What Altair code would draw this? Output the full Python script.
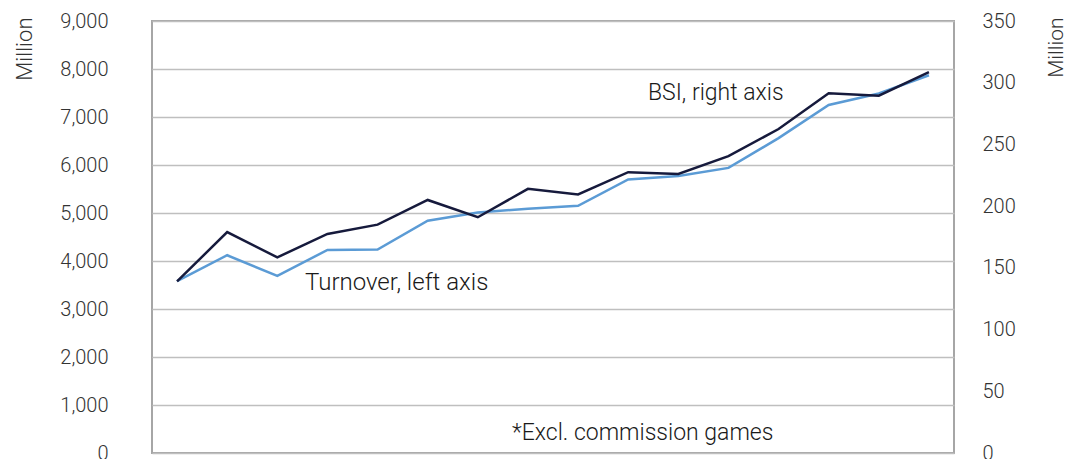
import altair as alt
import pandas as pd

periods = [str(i) for i in range(1, 17)]
turnover = [3580, 4120, 3690, 4230, 4240, 4840, 5010, 5090, 5150, 5700, 5770, 5940, 6560, 7250, 7490, 7870]
bsi = [139, 179, 158.5, 177.5, 185, 205, 191, 214, 209.5, 227.5, 226, 240.5, 262.5, 291.5, 289.5, 308.5]
left_ticks = list(range(0, 9001, 1000))
right_ticks = list(range(0, 351, 50))

df = pd.DataFrame({"period": periods, "turnover": turnover, "bsi": bsi})

FONT = "Roboto"
TXT = "#333333"

x = alt.X("period:O", sort=periods, scale=alt.Scale(type="point", padding=0.5), axis=None)

left = alt.Chart(df).mark_line(color="#5B9BD5", strokeWidth=2.5).encode(
    x=x,
    y=alt.Y(
        "turnover:Q",
        scale=alt.Scale(domain=[0, 9000], nice=False),
        axis=alt.Axis(
            values=left_ticks, format=",.0f", title="Million", orient="left",
            titleAngle=270, titleAlign="right", titleBaseline="middle",
            titleX=-128, titleY=-4, titleFontWeight=300, titleFontSize=22,
            labelPadding=44, tickSize=0, domain=False,
            grid=True, gridColor="#BFBFBF", gridWidth=1.5,
            labelFontSize=20, labelFontWeight=300,
        ),
    ),
)

right = alt.Chart(df).mark_line(color="#161A3C", strokeWidth=2.5).encode(
    x=x,
    y=alt.Y(
        "bsi:Q",
        scale=alt.Scale(domain=[0, 350], nice=False),
        axis=alt.Axis(
            values=right_ticks, format=",.0f", title="Million", orient="right",
            titleAngle=270, titleAlign="right", titleBaseline="middle",
            titleX=102, titleY=-4, titleFontWeight=300, titleFontSize=21,
            labelPadding=28, tickSize=0, domain=False, grid=False,
            labelFontSize=20, labelFontWeight=300,
        ),
    ),
)

def note(label, px, py, size=23):
    return alt.Chart(pd.DataFrame({"t": [label]})).mark_text(
        align="left", baseline="middle", fontSize=size, font=FONT, fontWeight=300,
        color="#1a1a1a"
    ).encode(text="t:N", x=alt.value(px), y=alt.value(py))

chart = alt.layer(
    left, right,
    note("Turnover, left axis", 153, 262, 24),
    note("BSI, right axis", 496, 72, 23),
    note("*Excl. commission games", 360, 412, 23),
).resolve_scale(y="independent").properties(
    width=802, height=432,
    autosize=alt.AutoSizeParams(type="none"),
    padding={"left": 144, "top": 13, "right": 111, "bottom": 6},
).configure_view(
    stroke="#A6A6A6", strokeWidth=2
).configure_axis(
    labelFont=FONT, titleFont=FONT, labelColor=TXT, titleColor=TXT
)

chart.save("out.html", embed_options={"renderer": "svg", "actions": False})
